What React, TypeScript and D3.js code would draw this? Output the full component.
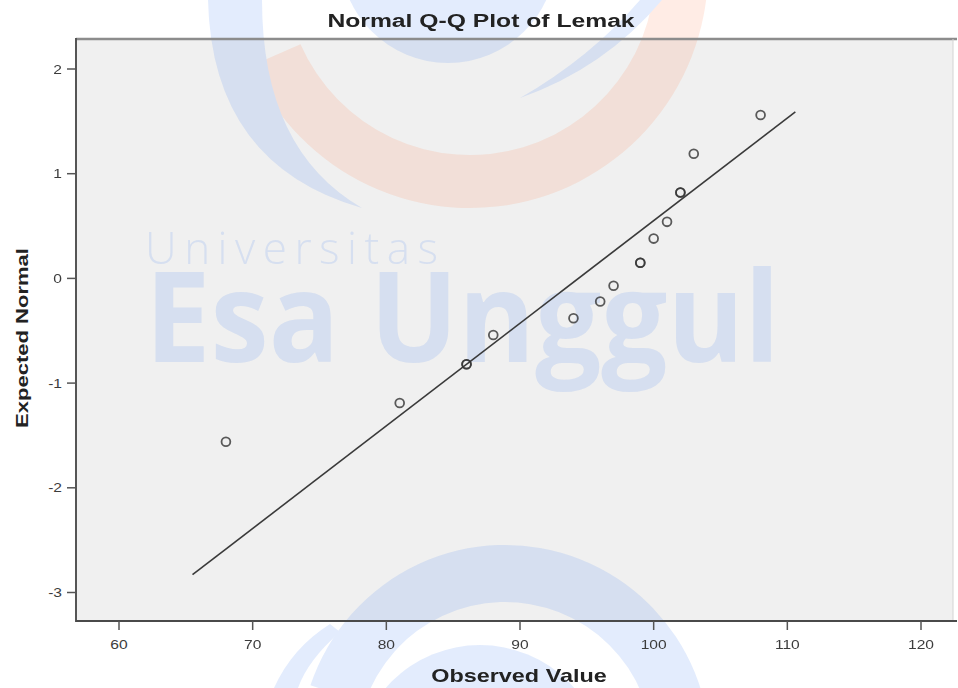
import React from "react";
import * as d3 from "d3";

// ---- data ----
const observed = [68, 81, 86, 86, 88, 94, 96, 97, 99, 99, 100, 101, 102, 102, 103, 108];
const expectedNormal = [-1.56, -1.19, -0.82, -0.82, -0.54, -0.38, -0.22, -0.07, 0.15, 0.15, 0.38, 0.54, 0.82, 0.82, 1.19, 1.56];
const lineObserved = [65.5, 110.6];
const lineExpected = [-2.83, 1.59];
const xTicks = [60, 70, 80, 90, 100, 110, 120];
const yTicks = [-3, -2, -1, 0, 1, 2];
const chartTitle = "Normal Q-Q Plot of Lemak";
const xTitle = "Observed Value";
const yTitle = "Expected Normal";
const wmSmall = "Universitas";
const wmBig = "Esa Unggul";

// ---- layout ----
const W = 958;
const H = 688;
const frame = { left: 76, right: 953, top: 39, bottom: 621 };
const SX = 1.3; // horizontal stretch of the original picture
const FONT = "'Liberation Sans', Arial, Helvetica, sans-serif";
const WM_FONT = "'Open Sans', 'Noto Sans', sans-serif";
const BLUE = "rgb(70,130,240)";
const ORANGE = "rgb(255,130,80)";
const WM_OP = 0.15;

function SText(props: any) {
  const { x, y, anchor = "start", size = 12, weight = "normal", fill = "#333", children } = props;
  return (
    <text
      transform={`translate(${x},${y}) scale(${SX},1)`}
      textAnchor={anchor}
      fontSize={size}
      fontWeight={weight}
      fill={fill}
      fontFamily={FONT}
    >
      {children}
    </text>
  );
}

function Watermark() {
  const arc = d3.arc();
  const orangeRing = arc({ innerRadius: 185, outerRadius: 238, startAngle: 1.4, endAngle: 4.3 } as any) || "";
  const bottomRing = arc({ innerRadius: 148, outerRadius: 205, startAngle: -1.25, endAngle: 2.0 } as any) || "";

  const leftCrescent = d3.path();
  leftCrescent.moveTo(208, 0);
  leftCrescent.quadraticCurveTo(212, 165, 362, 208);
  leftCrescent.quadraticCurveTo(262, 150, 262, 0);
  leftCrescent.closePath();

  const innerTail = d3.path();
  innerTail.moveTo(520, 98);
  innerTail.quadraticCurveTo(605, 68, 662, 0);
  innerTail.lineTo(640, 0);
  innerTail.quadraticCurveTo(590, 58, 520, 98);
  innerTail.closePath();

  const lowStroke = d3.path();
  lowStroke.moveTo(274, 688);
  lowStroke.quadraticCurveTo(292, 648, 330, 624);
  lowStroke.lineTo(340, 632);
  lowStroke.quadraticCurveTo(308, 660, 298, 688);
  lowStroke.closePath();

  return (
    <g opacity={WM_OP}>
      <path d={orangeRing} transform="translate(470,-30)" fill={ORANGE} />
      <path d={leftCrescent.toString()} fill={BLUE} />
      <circle cx={448} cy={-45} r={108} fill={BLUE} />
      <path d={innerTail.toString()} fill={BLUE} />
      <path d={bottomRing} transform="translate(505,750)" fill={BLUE} />
      <circle cx={480} cy={770} r={125} fill={BLUE} />
      <path d={lowStroke.toString()} fill={BLUE} />
      <text fontFamily={WM_FONT} fill={BLUE}>
        <tspan x={145} y={264} fontWeight={300} fontSize={44} textLength={293} lengthAdjust="spacing">
          {wmSmall}
        </tspan>
        <tspan x={145} y={362} fontWeight={700} fontSize={126} textLength={635} lengthAdjust="spacingAndGlyphs">
          {wmBig}
        </tspan>
      </text>
    </g>
  );
}

export default function App() {
  const x = d3.scaleLinear().domain([60, 120]).range([119, 921]);
  const y = d3.scaleLinear().domain([-3, 2]).range([592.5, 69]);
  const line = d3
    .line<number>()
    .x((d) => x(d))
    .y((_, i) => y(lineExpected[i]));
  const linePath = line(lineObserved) || "";

  return (
    <svg width={W} height={H} style={{ position: "absolute", left: 0, top: 0, display: "block" }}>
      <rect x={0} y={0} width={W} height={H} fill="#ffffff" />
      <rect
        x={frame.left}
        y={frame.top}
        width={frame.right - frame.left}
        height={frame.bottom - frame.top}
        fill="#f0f0f0"
      />
      <Watermark />

      {/* frame */}
      <line x1={frame.left} x2={frame.right + 4} y1={frame.top} y2={frame.top} stroke="#8c8c8c" strokeWidth={2.5} />
      <line x1={frame.right} x2={frame.right} y1={frame.top} y2={frame.bottom} stroke="#d4d4d4" strokeWidth={1} />
      <line x1={frame.left} x2={frame.left} y1={frame.top - 1} y2={frame.bottom + 1} stroke="#555" strokeWidth={2} />
      <line x1={frame.left} x2={frame.right + 4} y1={frame.bottom} y2={frame.bottom} stroke="#4a4a4a" strokeWidth={2} />

      {/* y axis */}
      {yTicks.map((t) => (
        <g key={"y" + t}>
          <line x1={frame.left - 9} x2={frame.left} y1={y(t)} y2={y(t)} stroke="#555" strokeWidth={1.5} />
          <SText x={62} y={y(t) + 4.5} anchor="end" size={12} fill="#3c3c3c">
            {t}
          </SText>
        </g>
      ))}

      {/* x axis */}
      {xTicks.map((t) => (
        <g key={"x" + t}>
          <line x1={x(t)} x2={x(t)} y1={frame.bottom} y2={frame.bottom + 9} stroke="#555" strokeWidth={1.5} />
          <SText x={x(t)} y={649} anchor="middle" size={12} fill="#3c3c3c">
            {t}
          </SText>
        </g>
      ))}

      {/* reference line */}
      <path d={linePath} fill="none" stroke="#3a3a3a" strokeWidth={1.6} />

      {/* points */}
      {observed.map((v, i) => (
        <circle
          key={"p" + i}
          cx={x(v)}
          cy={y(expectedNormal[i])}
          r={4.4}
          fill="none"
          stroke="#333"
          strokeOpacity={0.8}
          strokeWidth={1.8}
        />
      ))}

      {/* titles */}
      <SText x={481} y={27} anchor="middle" size={19} weight="bold" fill="#222">
        {chartTitle}
      </SText>
      <SText x={519} y={682} anchor="middle" size={18} weight="bold" fill="#222">
        {xTitle}
      </SText>
      <text
        transform={`translate(28,338) rotate(-90)`}
        textAnchor="middle"
        fontSize={17}
        fontWeight="bold"
        fill="#222"
        fontFamily={FONT}
        textLength={180}
        lengthAdjust="spacingAndGlyphs"
      >
        {yTitle}
      </text>
    </svg>
  );
}
